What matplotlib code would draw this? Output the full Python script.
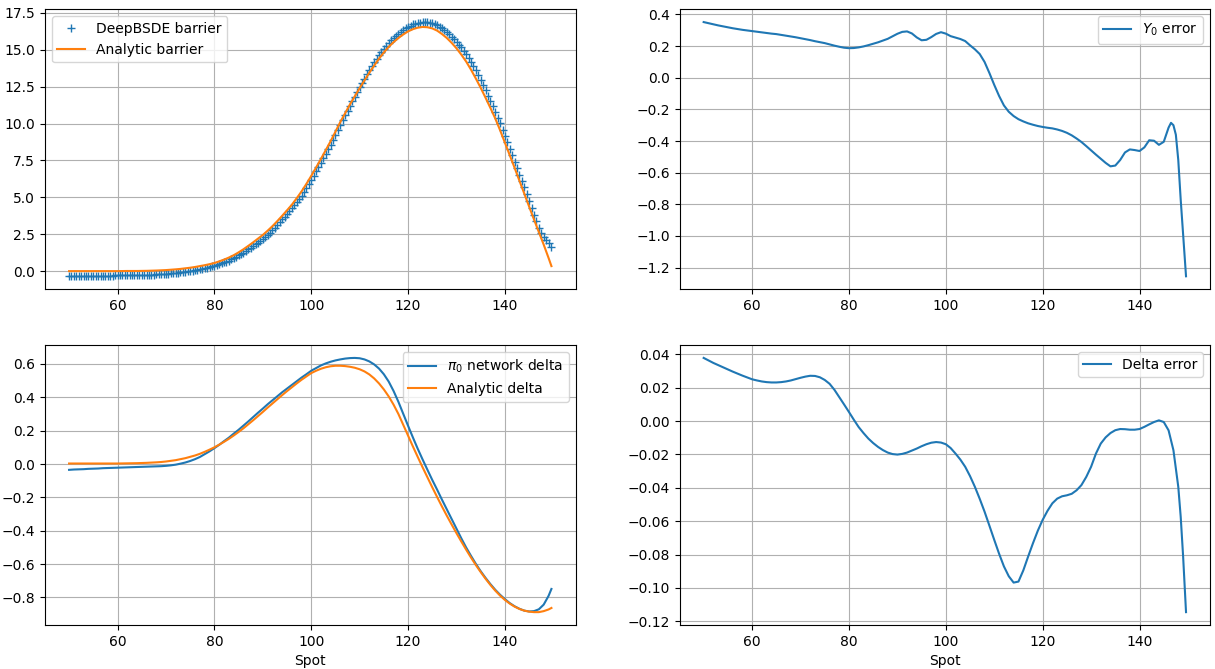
import numpy as np
import matplotlib
matplotlib.use("Agg")
import matplotlib.pyplot as plt

# =============================================================================
# Datos
# =============================================================================

# Spot para las curvas (paso 1 y extremo final)
spot = list(range(50, 150)) + [149.6]

# Spot de las muestras de la red DeepBSDE (paso 0.5)
spot_red = np.arange(50, 150, 0.5)

barrera_analitica = [
    0.00, 0.00, 0.00, 0.00, 0.00, 0.00, 0.00, 0.00, 0.00, 0.00, 0.00,
    0.005, 0.01, 0.01, 0.01, 0.015, 0.02, 0.03, 0.04, 0.055, 0.07,
    0.095, 0.12, 0.15, 0.19, 0.23, 0.28, 0.34, 0.40, 0.47, 0.55,
    0.66, 0.78, 0.92, 1.08, 1.27, 1.48, 1.71, 1.95, 2.20, 2.45,
    2.74, 3.05, 3.39, 3.75, 4.12, 4.50, 4.94, 5.40, 5.91, 6.45,
    7.02, 7.60, 8.20, 8.80, 9.45, 10.10, 10.70, 11.30, 11.85, 12.40,
    12.93, 13.45, 13.93, 14.40, 14.82, 15.20, 15.52, 15.80, 16.04, 16.25,
    16.40, 16.50, 16.55, 16.53, 16.45, 16.30, 16.07, 15.80, 15.47, 15.10,
    14.67, 14.20, 13.65, 13.05, 12.42, 11.75, 11.06, 10.35, 9.55, 8.70,
    7.85, 7.00, 6.12, 5.25, 4.37, 3.50, 2.65, 1.80, 0.90, 0.34,
]

barrera_deepbsde = [
    -0.35, -0.35, -0.345, -0.34, -0.34, -0.335, -0.33, -0.33, -0.325, -0.325,
    -0.32, -0.315, -0.31, -0.31, -0.305, -0.305, -0.30, -0.30, -0.30, -0.295,
    -0.295, -0.29, -0.29, -0.285, -0.285, -0.28, -0.28, -0.275, -0.27, -0.265,
    -0.26, -0.255, -0.25, -0.245, -0.24, -0.23, -0.22, -0.21, -0.20, -0.19,
    -0.18, -0.165, -0.15, -0.135, -0.12, -0.10, -0.08, -0.06, -0.04, -0.015,
    0.01, 0.04, 0.07, 0.105, 0.14, 0.17, 0.20, 0.24, 0.28, 0.32,
    0.36, 0.41, 0.47, 0.53, 0.59, 0.65, 0.72, 0.79, 0.87, 0.96,
    1.06, 1.16, 1.26, 1.37, 1.48, 1.59, 1.70, 1.82, 1.94, 2.05,
    2.17, 2.31, 2.45, 2.60, 2.76, 2.93, 3.11, 3.30, 3.50, 3.69,
    3.88, 4.07, 4.26, 4.47, 4.68, 4.90, 5.12, 5.37, 5.62, 5.89,
    6.17, 6.46, 6.76, 7.05, 7.35, 7.65, 7.96, 8.26, 8.57, 8.91,
    9.25, 9.58, 9.92, 10.24, 10.55, 10.88, 11.20, 11.51, 11.82, 12.14,
    12.45, 12.75, 13.05, 13.34, 13.63, 13.89, 14.15, 14.40, 14.64, 14.86,
    15.08, 15.28, 15.48, 15.65, 15.81, 15.96, 16.10, 16.23, 16.35, 16.46,
    16.56, 16.64, 16.72, 16.77, 16.82, 16.85, 16.88, 16.88, 16.87, 16.84,
    16.80, 16.73, 16.66, 16.56, 16.45, 16.33, 16.21, 16.06, 15.90, 15.73,
    15.56, 15.36, 15.16, 14.94, 14.71, 14.45, 14.19, 13.90, 13.61, 13.30,
    12.98, 12.63, 12.27, 11.90, 11.53, 11.17, 10.80, 10.41, 10.01, 9.59,
    9.16, 8.73, 8.29, 7.85, 7.40, 6.96, 6.52, 6.10, 5.67, 5.23,
    4.78, 4.30, 3.82, 3.38, 2.95, 2.60, 2.32, 2.10, 1.89, 1.65,
]

# Error de Y0
spot_error_y0 = list(range(50, 147)) + [146.5, 147, 147.5, 148, 148.5, 149, 149.6]
error_y0 = [
    0.352, 0.345, 0.338, 0.331, 0.325, 0.319, 0.313, 0.308, 0.303, 0.299,
    0.295, 0.291, 0.287, 0.283, 0.279, 0.276, 0.271, 0.266, 0.261, 0.256,
    0.250, 0.244, 0.238, 0.231, 0.225, 0.219, 0.211, 0.203, 0.196, 0.190,
    0.187, 0.188, 0.192, 0.198, 0.206, 0.215, 0.224, 0.235, 0.246, 0.262,
    0.278, 0.290, 0.293, 0.280, 0.255, 0.237, 0.240, 0.257, 0.277, 0.288,
    0.279, 0.263, 0.254, 0.245, 0.232, 0.205, 0.180, 0.150, 0.100, 0.030,
    -0.045, -0.115, -0.175, -0.215, -0.242, -0.262, -0.276, -0.288, -0.297, -0.305,
    -0.311, -0.316, -0.320, -0.327, -0.336, -0.348, -0.364, -0.384, -0.406, -0.432,
    -0.459, -0.486, -0.512, -0.538, -0.560, -0.555, -0.520, -0.472, -0.453, -0.457,
    -0.463, -0.440, -0.395, -0.398, -0.424, -0.405, -0.315,
    -0.285, -0.300, -0.360, -0.520, -0.770, -0.990, -1.255,
]

# Deltas
delta_red = [
    -0.035, -0.033, -0.032, -0.031, -0.029, -0.028, -0.027, -0.025, -0.024, -0.023,
    -0.022, -0.021, -0.020, -0.019, -0.018, -0.017, -0.016, -0.015, -0.014, -0.013,
    -0.011, -0.008, -0.004, 0.002, 0.009, 0.018, 0.029, 0.042, 0.059, 0.076,
    0.095, 0.115, 0.137, 0.158, 0.182, 0.205, 0.230, 0.255, 0.281, 0.307,
    0.332, 0.358, 0.382, 0.406, 0.430, 0.452, 0.474, 0.496, 0.518, 0.538,
    0.559, 0.575, 0.591, 0.603, 0.613, 0.621, 0.627, 0.632, 0.635, 0.636,
    0.634, 0.627, 0.615, 0.597, 0.572, 0.538, 0.494, 0.438, 0.373, 0.301,
    0.229, 0.159, 0.091, 0.027, -0.035, -0.096, -0.154, -0.214, -0.272, -0.330,
    -0.388, -0.446, -0.501, -0.551, -0.599, -0.643, -0.683, -0.720, -0.754, -0.784,
    -0.810, -0.834, -0.853, -0.868, -0.879, -0.884, -0.882, -0.871, -0.843, -0.791,
    -0.749,
]

delta_analitica = [
    0.003, 0.003, 0.003, 0.003, 0.003, 0.003, 0.003, 0.003, 0.003, 0.003, 0.003,
    0.0035, 0.004, 0.0045, 0.005, 0.006, 0.007, 0.0085, 0.010, 0.012, 0.015,
    0.019, 0.023, 0.029, 0.035, 0.043, 0.051, 0.061, 0.073, 0.086, 0.100,
    0.116, 0.133, 0.151, 0.171, 0.192, 0.214, 0.238, 0.262, 0.287, 0.312,
    0.338, 0.363, 0.388, 0.413, 0.437, 0.460, 0.483, 0.505, 0.525, 0.545,
    0.559, 0.571, 0.580, 0.586, 0.589, 0.589, 0.587, 0.583, 0.577, 0.568,
    0.555, 0.537, 0.513, 0.483, 0.447, 0.405, 0.356, 0.300, 0.235, 0.170,
    0.105, 0.042, -0.020, -0.080, -0.140, -0.198, -0.255, -0.310, -0.363, -0.415,
    -0.465, -0.514, -0.561, -0.606, -0.648, -0.688, -0.725, -0.759, -0.789, -0.815,
    -0.837, -0.855, -0.869, -0.879, -0.885, -0.888, -0.888, -0.882, -0.872, -0.863,
]

# Error de delta
spot_error_delta = list(range(50, 149)) + [148.5, 149, 149.6]
error_delta = [
    0.0378, 0.0363, 0.0348, 0.0335, 0.0322, 0.0309, 0.0296, 0.0284, 0.0272, 0.0261,
    0.0250, 0.0243, 0.0237, 0.0233, 0.0231, 0.0231, 0.0233, 0.0237, 0.0243, 0.0251,
    0.0259, 0.0266, 0.0271, 0.0270, 0.0262, 0.0246, 0.0223, 0.0187, 0.0143, 0.0099,
    0.0054, 0.0008, -0.0036, -0.0072, -0.0105, -0.0132, -0.0155, -0.0174, -0.0189, -0.0198,
    -0.0201, -0.0197, -0.0189, -0.0177, -0.0165, -0.0151, -0.0139, -0.0130, -0.0126, -0.0129,
    -0.0139, -0.0162, -0.0195, -0.0231, -0.0274, -0.0330, -0.0394, -0.0466, -0.0543, -0.0627,
    -0.0712, -0.0795, -0.0871, -0.0930, -0.0968, -0.0962, -0.0895, -0.0812, -0.0732, -0.0657,
    -0.0592, -0.0538, -0.0493, -0.0465, -0.0451, -0.0445, -0.0436, -0.0415, -0.0384, -0.0335,
    -0.0274, -0.0195, -0.0135, -0.0098, -0.0072, -0.0055, -0.0048, -0.0049, -0.0052, -0.0052,
    -0.0048, -0.0035, -0.0020, -0.0006, 0.0004, -0.0006, -0.0056, -0.0175, -0.0394,
    -0.0573, -0.0811, -0.1145,
]

# =============================================================================
# Figura
# =============================================================================

fig, axs = plt.subplots(2, 2, figsize=(12.15, 6.69), dpi=100)
plt.subplots_adjust(left=0.037, right=0.996, top=0.986, bottom=0.066,
                    wspace=0.196, hspace=0.201)

# Precio de la barrera
ax = axs[0, 0]
ax.plot(spot_red, barrera_deepbsde, '+', label='DeepBSDE barrier')
ax.plot(spot, barrera_analitica, label='Analytic barrier')
ax.legend(loc='upper left')
ax.grid(True)

# Error de Y0
ax = axs[0, 1]
ax.plot(spot_error_y0, error_y0, label='$Y_0$ error')
ax.legend(loc='upper right')
ax.grid(True)

# Delta
ax = axs[1, 0]
ax.plot(spot, delta_red, label=r'$\pi_0$ network delta')
ax.plot(spot, delta_analitica, label='Analytic delta')
ax.set_xlabel('Spot')
ax.legend(loc='upper right')
ax.grid(True)

# Error de delta
ax = axs[1, 1]
ax.plot(spot_error_delta, error_delta, label='Delta error')
ax.set_xlabel('Spot')
ax.legend(loc='upper right')
ax.grid(True)

fig.savefig('out.png')
